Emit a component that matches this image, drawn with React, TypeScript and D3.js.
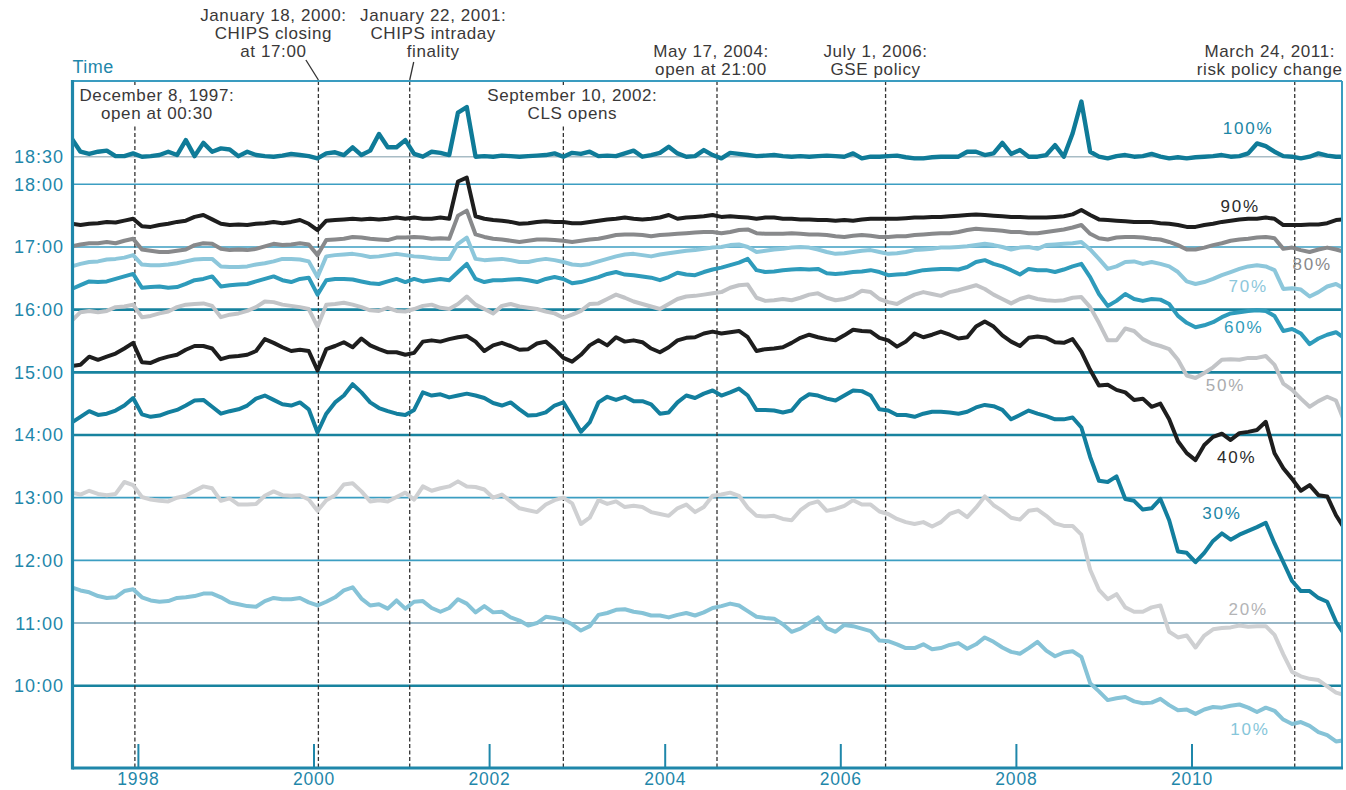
import React from 'react';
import * as d3 from 'd3';

// Samples every 0.1 year starting at START_YEAR; values are clock time in decimal hours.
const START_YEAR = 1997.24;
const STEP = 0.1;

const seriesNames = ['10%', '20%', '30%', '40%', '50%', '60%', '70%', '80%', '90%', '100%'];

const s100 = [
  18.83, 18.59, 18.55, 18.59, 18.61, 18.51, 18.51, 18.56, 18.5, 18.51,
  18.53, 18.59, 18.53, 18.8, 18.51, 18.75, 18.59, 18.65, 18.63, 18.51,
  18.59, 18.53, 18.51, 18.5, 18.52, 18.55, 18.53, 18.51, 18.47, 18.56,
  18.58, 18.53, 18.67, 18.53, 18.61, 18.91, 18.67, 18.67, 18.8, 18.55,
  18.5, 18.59, 18.57, 18.53, 19.3, 19.4, 18.5, 18.51, 18.5, 18.52,
  18.51, 18.5, 18.51, 18.52, 18.53, 18.56, 18.5, 18.57, 18.55, 18.59,
  18.51, 18.52, 18.51, 18.56, 18.61, 18.5, 18.53, 18.57, 18.68, 18.56,
  18.5, 18.51, 18.62, 18.53, 18.47, 18.57, 18.55, 18.53, 18.51, 18.52,
  18.53, 18.51, 18.5, 18.51, 18.5, 18.51, 18.52, 18.51, 18.5, 18.56,
  18.47, 18.5, 18.5, 18.51, 18.52, 18.49, 18.47, 18.47, 18.49, 18.5,
  18.5, 18.5, 18.59, 18.59, 18.53, 18.56, 18.75, 18.55, 18.62, 18.5,
  18.5, 18.53, 18.71, 18.5, 18.92, 19.5, 18.59, 18.5, 18.47, 18.51,
  18.53, 18.5, 18.51, 18.55, 18.5, 18.47, 18.49, 18.47, 18.49, 18.5,
  18.51, 18.53, 18.5, 18.51, 18.56, 18.74, 18.69, 18.59, 18.51, 18.5,
  18.47, 18.5, 18.56, 18.52, 18.5, 18.5,
];

const s90 = [
  17.37, 17.35, 17.37, 17.38, 17.4, 17.39, 17.42, 17.45, 17.33, 17.32,
  17.35, 17.37, 17.4, 17.42, 17.48, 17.51, 17.44, 17.37, 17.35, 17.36,
  17.35, 17.37, 17.38, 17.4, 17.38, 17.4, 17.43, 17.37, 17.27, 17.42,
  17.43, 17.44, 17.45, 17.44, 17.45, 17.44, 17.45, 17.47, 17.45, 17.47,
  17.45, 17.45, 17.47, 17.45, 18.05, 18.12, 17.49, 17.45, 17.43, 17.42,
  17.4, 17.37, 17.38, 17.4, 17.41, 17.4, 17.4, 17.38, 17.38, 17.4,
  17.42, 17.44, 17.45, 17.47, 17.45, 17.44, 17.45, 17.47, 17.51, 17.45,
  17.47, 17.48, 17.49, 17.51, 17.48, 17.49, 17.48, 17.47, 17.45, 17.47,
  17.47, 17.45, 17.45, 17.44, 17.44, 17.43, 17.43, 17.42, 17.43, 17.42,
  17.44, 17.45, 17.45, 17.45, 17.45, 17.46, 17.47, 17.47, 17.48, 17.48,
  17.49, 17.5, 17.51, 17.52, 17.51, 17.5, 17.49, 17.48, 17.48, 17.47,
  17.47, 17.47, 17.48, 17.49, 17.52, 17.59, 17.51, 17.44, 17.43, 17.42,
  17.41, 17.4, 17.4, 17.4, 17.38, 17.37, 17.35, 17.32, 17.32, 17.35,
  17.37, 17.4, 17.42, 17.44, 17.45, 17.45, 17.47, 17.45, 17.35, 17.35,
  17.35, 17.36, 17.36, 17.38, 17.43, 17.44,
];

const s80 = [
  17.01, 17.04, 17.06, 17.06, 17.08, 17.06, 17.1, 17.13, 16.96, 16.94,
  16.92, 16.92, 16.94, 16.96, 17.03, 17.06, 17.05, 16.97, 16.95, 16.96,
  16.95, 16.97, 17.01, 17.05, 17.03, 17.04, 17.06, 17.04, 16.87, 17.11,
  17.12, 17.13, 17.16, 17.15, 17.13, 17.12, 17.11, 17.15, 17.15, 17.16,
  17.15, 17.13, 17.14, 17.13, 17.5, 17.58, 17.2, 17.16, 17.13, 17.12,
  17.1, 17.08, 17.1, 17.12, 17.12, 17.11, 17.1, 17.08, 17.1, 17.12,
  17.13, 17.16, 17.19, 17.2, 17.2, 17.19, 17.17, 17.19, 17.2, 17.21,
  17.22, 17.23, 17.24, 17.24, 17.22, 17.24, 17.27, 17.28, 17.22, 17.21,
  17.21, 17.21, 17.22, 17.21, 17.2, 17.2, 17.19, 17.17, 17.16, 17.18,
  17.19, 17.18, 17.16, 17.16, 17.17, 17.17, 17.19, 17.2, 17.21, 17.22,
  17.22, 17.24, 17.27, 17.29, 17.28, 17.27, 17.26, 17.24, 17.24, 17.22,
  17.22, 17.24, 17.26, 17.28, 17.31, 17.35, 17.21, 17.14, 17.12, 17.15,
  17.16, 17.16, 17.15, 17.13, 17.12, 17.08, 17.03, 16.96, 16.96, 16.99,
  17.03, 17.06, 17.1, 17.12, 17.13, 17.15, 17.16, 17.14, 16.97, 16.99,
  16.95, 16.92, 16.96, 16.99, 16.96, 16.92,
];

const s70 = [
  16.69, 16.73, 16.76, 16.77, 16.8, 16.81, 16.83, 16.87, 16.72, 16.71,
  16.71, 16.72, 16.74, 16.77, 16.8, 16.81, 16.81, 16.69, 16.68, 16.68,
  16.69, 16.72, 16.74, 16.77, 16.81, 16.81, 16.8, 16.77, 16.52, 16.85,
  16.87, 16.88, 16.89, 16.87, 16.84, 16.85, 16.87, 16.89, 16.87, 16.85,
  16.84, 16.82, 16.81, 16.81, 17.05, 17.15, 16.81, 16.79, 16.8, 16.81,
  16.79, 16.76, 16.76, 16.79, 16.81, 16.79, 16.76, 16.72, 16.71, 16.73,
  16.77, 16.81, 16.85, 16.88, 16.89, 16.87, 16.85, 16.88, 16.9, 16.92,
  16.94, 16.95, 16.97, 16.99, 17.0, 17.03, 17.04, 17.0, 16.92, 16.94,
  16.96, 16.97, 16.99, 17.0, 16.99, 16.96, 16.92, 16.89, 16.9, 16.92,
  16.94, 16.95, 16.92, 16.89, 16.9, 16.92, 16.95, 16.96, 16.97, 16.99,
  16.99, 17.0, 17.01, 17.03, 17.05, 17.03, 17.0, 16.96, 16.99, 17.0,
  16.97, 17.03, 17.04, 17.05, 17.06, 17.08, 16.96, 16.81, 16.65, 16.69,
  16.76, 16.77, 16.73, 16.76, 16.73, 16.69, 16.6, 16.45, 16.41, 16.44,
  16.49, 16.55, 16.6, 16.65, 16.69, 16.71, 16.69, 16.63, 16.33, 16.34,
  16.32, 16.21, 16.28, 16.37, 16.41, 16.33,
];

const s60 = [
  16.33, 16.39, 16.45, 16.44, 16.45, 16.49, 16.53, 16.57, 16.35, 16.36,
  16.37, 16.35, 16.36, 16.41, 16.47, 16.49, 16.53, 16.37, 16.39, 16.4,
  16.41, 16.45, 16.49, 16.53, 16.47, 16.44, 16.49, 16.51, 16.24, 16.47,
  16.49, 16.49, 16.48, 16.45, 16.42, 16.41, 16.45, 16.49, 16.44, 16.49,
  16.45, 16.47, 16.49, 16.47, 16.6, 16.73, 16.49, 16.44, 16.47, 16.47,
  16.48, 16.49, 16.47, 16.44, 16.49, 16.52, 16.49, 16.42, 16.44, 16.48,
  16.52, 16.57, 16.6, 16.56, 16.55, 16.53, 16.51, 16.47, 16.52, 16.59,
  16.56, 16.55, 16.6, 16.64, 16.67, 16.71, 16.75, 16.81, 16.63, 16.6,
  16.61, 16.63, 16.64, 16.65, 16.64, 16.65, 16.58, 16.57, 16.58, 16.6,
  16.61, 16.63, 16.6, 16.55, 16.56, 16.57, 16.6, 16.63, 16.64, 16.65,
  16.65, 16.64, 16.68, 16.76, 16.79, 16.73, 16.69, 16.63, 16.56, 16.65,
  16.63, 16.63, 16.6, 16.64, 16.69, 16.73, 16.52, 16.25, 16.06, 16.14,
  16.25, 16.17, 16.14, 16.17, 16.16, 16.09, 15.9, 15.79, 15.72, 15.75,
  15.8, 15.88, 15.94, 15.96, 15.98, 15.99, 15.98, 15.9, 15.66, 15.69,
  15.62, 15.45, 15.54, 15.6, 15.64, 15.54,
];

const s50 = [
  15.82, 15.96, 15.98, 15.96, 15.98, 16.04, 16.05, 16.08, 15.88, 15.9,
  15.94, 15.97, 16.04, 16.08, 16.09, 16.1, 16.06, 15.88, 15.92, 15.94,
  15.98, 16.04, 16.13, 16.12, 16.08, 16.06, 16.04, 16.01, 15.73, 16.08,
  16.09, 16.11, 16.08, 16.04, 15.99, 15.98, 16.03, 15.98, 15.97, 16.01,
  16.06, 16.08, 16.03, 16.01, 16.09, 16.21, 16.08, 16.01, 15.94, 16.06,
  16.09, 16.05, 16.03, 16.01, 15.97, 15.94, 15.87, 15.92, 15.98, 16.09,
  16.1, 16.17, 16.24, 16.19, 16.13, 16.09, 16.05, 16.01, 16.09, 16.17,
  16.21, 16.22, 16.24, 16.26, 16.28, 16.35, 16.39, 16.4, 16.19, 16.14,
  16.15, 16.17, 16.15, 16.19, 16.24, 16.26, 16.19, 16.15, 16.17, 16.22,
  16.3, 16.28, 16.17, 16.12, 16.09, 16.17, 16.24, 16.28, 16.25, 16.22,
  16.28, 16.31, 16.35, 16.39, 16.33, 16.24, 16.17, 16.1, 16.17, 16.21,
  16.17, 16.15, 16.14, 16.15, 16.19, 16.2, 16.04, 15.79, 15.51, 15.51,
  15.7, 15.66, 15.53, 15.46, 15.42, 15.37, 15.2, 14.95, 14.91, 14.99,
  15.08, 15.2, 15.21, 15.2, 15.23, 15.23, 15.26, 15.12, 14.82, 14.72,
  14.58, 14.45, 14.54, 14.61, 14.55, 14.2,
];

const s40 = [
  15.1, 15.12, 15.25, 15.2, 15.25, 15.3, 15.38, 15.47, 15.16, 15.15,
  15.21, 15.25, 15.28, 15.36, 15.42, 15.42, 15.38, 15.21, 15.25, 15.26,
  15.28, 15.34, 15.53, 15.47, 15.4, 15.34, 15.36, 15.34, 15.03, 15.37,
  15.42, 15.48, 15.4, 15.54, 15.43, 15.37, 15.32, 15.32, 15.28, 15.31,
  15.49, 15.51, 15.49, 15.53, 15.56, 15.58, 15.49, 15.34, 15.43, 15.47,
  15.42, 15.36, 15.37, 15.46, 15.49, 15.37, 15.23, 15.17, 15.28, 15.43,
  15.51, 15.43, 15.56, 15.49, 15.51, 15.48, 15.38, 15.32, 15.4, 15.51,
  15.55, 15.56, 15.62, 15.65, 15.62, 15.64, 15.66, 15.56, 15.34, 15.37,
  15.38, 15.4, 15.47, 15.55, 15.6, 15.56, 15.53, 15.51, 15.59, 15.68,
  15.66, 15.65, 15.55, 15.51, 15.41, 15.49, 15.62, 15.56, 15.6, 15.65,
  15.6, 15.54, 15.56, 15.73, 15.81, 15.73, 15.59, 15.49, 15.42, 15.55,
  15.57, 15.55, 15.48, 15.47, 15.53, 15.33, 15.04, 14.79, 14.8, 14.72,
  14.68, 14.56, 14.58, 14.45, 14.5, 14.25, 13.9, 13.71, 13.6, 13.84,
  13.97, 14.02, 13.92, 14.03, 14.05, 14.08, 14.21, 13.71, 13.47, 13.3,
  13.11, 13.2, 13.04, 13.02, 12.72, 12.5,
];

const s30 = [
  14.2, 14.29, 14.38, 14.32, 14.34, 14.39, 14.47, 14.59, 14.33, 14.29,
  14.31, 14.36, 14.4, 14.47, 14.55, 14.56, 14.45, 14.34, 14.38, 14.41,
  14.47, 14.58, 14.63, 14.56, 14.49, 14.47, 14.52, 14.41, 14.04, 14.34,
  14.52, 14.63, 14.81, 14.68, 14.52, 14.43, 14.38, 14.34, 14.32, 14.4,
  14.68, 14.63, 14.65, 14.6, 14.63, 14.66, 14.63, 14.59, 14.51, 14.47,
  14.52, 14.41, 14.31, 14.32, 14.36, 14.47, 14.52, 14.29, 14.05, 14.2,
  14.52, 14.61, 14.56, 14.61, 14.54, 14.54, 14.49, 14.34, 14.36, 14.52,
  14.63, 14.59, 14.66, 14.71, 14.63, 14.68, 14.74, 14.63, 14.4, 14.4,
  14.39, 14.36, 14.39, 14.56, 14.65, 14.63, 14.58, 14.55, 14.63, 14.71,
  14.7, 14.63, 14.41, 14.39, 14.32, 14.32, 14.29, 14.34, 14.37, 14.37,
  14.36, 14.34, 14.37, 14.44, 14.48, 14.46, 14.4, 14.25, 14.32, 14.39,
  14.34, 14.3, 14.25, 14.25, 14.28, 14.12, 13.65, 13.27, 13.25, 13.34,
  12.98, 12.95, 12.81, 12.83, 12.98, 12.64, 12.14, 12.12, 11.97, 12.12,
  12.31, 12.43, 12.33, 12.41, 12.47, 12.53, 12.6, 12.27, 11.97, 11.67,
  11.51, 11.51, 11.4, 11.34, 11.02, 10.81,
];

const s20 = [
  13.08, 13.05, 13.11, 13.06, 13.04, 13.06, 13.25, 13.2, 13.01, 12.97,
  12.95, 12.94, 13.0, 13.03, 13.11, 13.18, 13.15, 12.95, 12.99, 12.89,
  12.89, 12.9, 13.03, 13.1, 13.04, 13.03, 13.04, 12.97, 12.79, 12.96,
  13.04, 13.21, 13.23, 13.1, 12.94, 12.96, 12.94, 13.01, 13.08, 12.97,
  13.18, 13.11, 13.15, 13.18, 13.26, 13.18, 13.17, 13.13, 13.0, 13.05,
  12.94, 12.83, 12.8, 12.77, 12.89, 12.96, 13.0, 12.91, 12.58, 12.68,
  12.96, 12.9, 12.94, 12.85, 12.87, 12.85, 12.77, 12.74, 12.71, 12.83,
  12.89, 12.77, 12.85, 13.03, 13.05, 13.08, 13.03, 12.84, 12.71, 12.7,
  12.71, 12.66, 12.64, 12.8, 12.9, 12.94, 12.79, 12.82, 12.87, 12.96,
  12.89, 12.89, 12.78, 12.74, 12.66, 12.61, 12.58, 12.61, 12.54, 12.61,
  12.74, 12.79, 12.69, 12.84, 13.02, 12.88, 12.79, 12.68, 12.65, 12.79,
  12.81, 12.71, 12.59, 12.55, 12.55, 12.41, 11.85, 11.53, 11.38, 11.46,
  11.25, 11.18, 11.18, 11.25, 11.28, 10.86, 10.77, 10.8, 10.61, 10.8,
  10.9, 10.92, 10.93, 10.96, 10.94, 10.95, 10.95, 10.81, 10.5, 10.22,
  10.15, 10.11, 10.09, 9.99, 9.89, 9.85,
];

const s10 = [
  11.57, 11.52, 11.49, 11.43, 11.4, 11.41, 11.51, 11.54, 11.41, 11.36,
  11.34, 11.35, 11.4, 11.41, 11.43, 11.47, 11.47, 11.41, 11.33, 11.3,
  11.27, 11.26, 11.35, 11.4, 11.38, 11.38, 11.4, 11.33, 11.28, 11.34,
  11.41, 11.52, 11.57, 11.39, 11.28, 11.3, 11.23, 11.36, 11.23, 11.34,
  11.35, 11.24, 11.18, 11.24, 11.38, 11.31, 11.17, 11.27, 11.17, 11.18,
  11.09, 11.04, 10.96, 11.0, 11.1, 11.08, 11.05, 10.98, 10.88, 10.95,
  11.13, 11.16, 11.21, 11.22, 11.18, 11.16, 11.12, 11.12, 11.09, 11.13,
  11.16, 11.12, 11.17, 11.24, 11.27, 11.31, 11.28, 11.19, 11.1, 11.08,
  11.07, 10.98, 10.86, 10.91, 11.0, 11.09, 10.92, 10.86, 10.97, 10.95,
  10.91, 10.87, 10.72, 10.71, 10.66, 10.6, 10.6, 10.66, 10.58, 10.6,
  10.65, 10.68, 10.59, 10.66, 10.77, 10.7, 10.61, 10.54, 10.51, 10.6,
  10.7, 10.56, 10.47, 10.53, 10.55, 10.46, 10.04, 9.91, 9.77, 9.8,
  9.82, 9.75, 9.72, 9.73, 9.79, 9.69, 9.61, 9.62, 9.55, 9.62,
  9.66, 9.65, 9.68, 9.7, 9.65, 9.58, 9.65, 9.6, 9.46, 9.39,
  9.42, 9.36, 9.26, 9.21, 9.11, 9.13,
];

const seriesValues = [s10, s20, s30, s40, s50, s60, s70, s80, s90, s100];

const hourTicks = [18.5, 18, 17, 16, 15, 14, 13, 12, 11, 10];
const hourLabels = ['18:30', '18:00', '17:00', '16:00', '15:00', '14:00', '13:00', '12:00', '11:00', '10:00'];
const yearTicks = [1998, 2000, 2002, 2004, 2006, 2008, 2010];

// event lines: year as drawn in the figure, and their captions
const eventYears = [1997.96, 2000.05, 2001.09, 2002.84, 2004.59, 2006.51, 2011.17];
const eventCaptions = [
  ['December 8, 1997:', 'open at 00:30'],
  ['January 18, 2000:', 'CHIPS closing', 'at 17:00'],
  ['January 22, 2001:', 'CHIPS intraday', 'finality'],
  ['September 10, 2002:', 'CLS opens'],
  ['May 17, 2004:', 'open at 21:00'],
  ['July 1, 2006:', 'GSE policy'],
  ['March 24, 2011:', 'risk policy change'],
];

// ---- layout & styles ----
const W = 1346;
const H = 790;
const FR = { left: 72.5, right: 1342, top: 81, bottom: 768 };
const FONT = '"Liberation Sans", Arial, Helvetica, sans-serif';
const TEAL = '#1f87aa';
const TEXT = '#3a3838';

const seriesStyle = [
  { color: '#86c3d7', label: '#86c6da' },
  { color: '#cfd0d2', label: '#b3b4b6' },
  { color: '#137f9e', label: '#1c86a6' },
  { color: '#1e1e1e', label: '#2a2a2a' },
  { color: '#c2c4c7', label: '#a9abae' },
  { color: '#2e9bbb', label: '#2e9bbb' },
  { color: '#8dc7db', label: '#8dc7db' },
  { color: '#88898b', label: '#88898b' },
  { color: '#1e1e1e', label: '#2a2a2a' },
  { color: '#0f7b98', label: '#1b86a6' },
];
// label anchors in data units [year, hour]
const labelAnchors: [number, number][] = [
  [2010.66, 9.21], [2010.64, 11.13], [2010.34, 12.66], [2010.51, 13.55], [2010.38, 14.7],
  [2010.59, 15.63], [2010.64, 16.28], [2011.37, 16.63], [2010.55, 17.56], [2010.64, 18.91],
];

const gridStyle: Record<string, { c: string; w: number }> = {
  '18.5': { c: '#a8bcc5', w: 1.6 },
  '18': { c: '#3c9ec2', w: 1.6 },
  '17': { c: '#3c9ec2', w: 1.6 },
  '16': { c: '#18839f', w: 2.6 },
  '15': { c: '#18839f', w: 2.6 },
  '14': { c: '#18839f', w: 2.6 },
  '13': { c: '#3c9ec2', w: 1.8 },
  '12': { c: '#3c9ec2', w: 1.8 },
  '11': { c: '#98b7c7', w: 2 },
  '10': { c: '#18839f', w: 2.6 },
};

// caption placement relative to each event line
type Place = { mode: 'inside' | 'above'; dx: number; rows: number[]; leader?: [number, number] };
const captionPlace: Place[] = [
  { mode: 'inside', dx: 22, rows: [101, 118.5] },
  { mode: 'above', dx: -45, rows: [20.5, 38.5, 56.5], leader: [-12.5, 60] },
  { mode: 'above', dx: 23.5, rows: [20.5, 38.5, 56.5], leader: [4, 62] },
  { mode: 'inside', dx: 9, rows: [101, 118.5] },
  { mode: 'above', dx: -6, rows: [56.5, 74.5] },
  { mode: 'above', dx: -10, rows: [56.5, 74.5] },
  { mode: 'above', dx: -25, rows: [56.5, 74.5] },
];

const x = d3.scaleLinear().domain([1998, 2010]).range([138.4, 1192]);
const y = d3.scaleLinear().domain([10, 18, 18.5]).range([685.7, 184.3, 156.7]);

const lineGen = d3
  .line<number>()
  .x((_, i) => x(START_YEAR + i * STEP))
  .y((d) => y(d));

const App: React.FC = () => {
  return (
    <div style={{ position: 'absolute', left: 0, top: 0 }}>
      <svg width={W} height={H} style={{ display: 'block', background: '#fff' }} fontFamily={FONT}>
        <defs>
          <clipPath id="plot">
            <rect x={FR.left} y={FR.top} width={FR.right - FR.left} height={FR.bottom - FR.top} />
          </clipPath>
        </defs>

        {/* horizontal grid */}
        {hourTicks.map((h) => {
          const s = gridStyle[String(h)];
          return (
            <line key={h} x1={FR.left} x2={FR.right} y1={y(h)} y2={y(h)} stroke={s.c} strokeWidth={s.w} />
          );
        })}

        {/* event lines */}
        {eventYears.map((yr, i) => (
          <line
            key={'ev' + i}
            x1={x(yr)}
            x2={x(yr)}
            y1={FR.top}
            y2={FR.bottom}
            stroke="#333"
            strokeWidth={1.3}
            strokeDasharray="4 2.5"
          />
        ))}

        {/* masks behind inside captions */}
        {eventYears.map((yr, i) =>
          captionPlace[i].mode === 'inside' ? (
            <rect key={'mk' + i} x={x(yr) - 4} y={87} width={8} height={38} fill="#fff" />
          ) : null
        )}

        {/* bottom year ticks */}
        {yearTicks.map((t) => (
          <line key={'t' + t} x1={x(t)} x2={x(t)} y1={FR.bottom - 24} y2={FR.bottom} stroke={TEAL} strokeWidth={2} />
        ))}

        {/* series */}
        <g clipPath="url(#plot)">
          {seriesValues.map((vals, i) => (
            <path
              key={seriesNames[i]}
              d={lineGen(vals) as string}
              fill="none"
              stroke={seriesStyle[i].color}
              strokeWidth={i === 9 ? 4.4 : 4}
              strokeLinejoin="round"
              strokeLinecap="round"
            />
          ))}
        </g>

        {/* frame */}
        <line x1={FR.left} x2={FR.right} y1={FR.top} y2={FR.top} stroke="#3a9cc0" strokeWidth={2} />
        <line x1={FR.right} x2={FR.right} y1={FR.top} y2={FR.bottom} stroke="#3a9cc0" strokeWidth={2} />
        <line x1={FR.left} x2={FR.left} y1={FR.top - 1} y2={FR.bottom + 1.5} stroke={TEAL} strokeWidth={3.2} />
        <line x1={FR.left} x2={FR.right + 1} y1={FR.bottom} y2={FR.bottom} stroke={TEAL} strokeWidth={3.2} />

        {/* series labels */}
        {seriesNames.map((n, i) => (
          <text
            key={'lb' + n}
            x={x(labelAnchors[i][0])}
            y={y(labelAnchors[i][1])}
            textAnchor="middle"
            fontSize={17}
            letterSpacing={1.8}
            fill={seriesStyle[i].label}
          >
            {n}
          </text>
        ))}

        {/* y axis labels */}
        {hourTicks.map((h, i) => (
          <text
            key={'yl' + h}
            x={64}
            y={y(h)}
            dy="0.36em"
            textAnchor="end"
            fontSize={18}
            letterSpacing={1}
            fill={TEAL}
          >
            {hourLabels[i]}
          </text>
        ))}
        <text x={FR.left} y={73} fontSize={18} letterSpacing={0.5} fill={TEAL}>
          Time
        </text>

        {/* x axis labels */}
        {yearTicks.map((t) => (
          <text key={'xl' + t} x={x(t)} y={785} textAnchor="middle" fontSize={17.5} letterSpacing={0.8} fill={TEAL}>
            {t}
          </text>
        ))}

        {/* event captions */}
        {eventYears.map((yr, i) => {
          const p = captionPlace[i];
          const cx = x(yr) + p.dx;
          return (
            <g key={'cap' + i}>
              {eventCaptions[i].map((s, k) => (
                <text
                  key={k}
                  x={cx}
                  y={p.rows[k]}
                  textAnchor="middle"
                  fontSize={17}
                  letterSpacing={0.6}
                  fill={TEXT}
                >
                  {s}
                </text>
              ))}
              {p.leader ? (
                <line
                  x1={x(yr) + p.leader[0]}
                  y1={p.leader[1]}
                  x2={x(yr)}
                  y2={FR.top - 1}
                  stroke="#333"
                  strokeWidth={1.3}
                />
              ) : null}
            </g>
          );
        })}
      </svg>
    </div>
  );
};

export default App;
